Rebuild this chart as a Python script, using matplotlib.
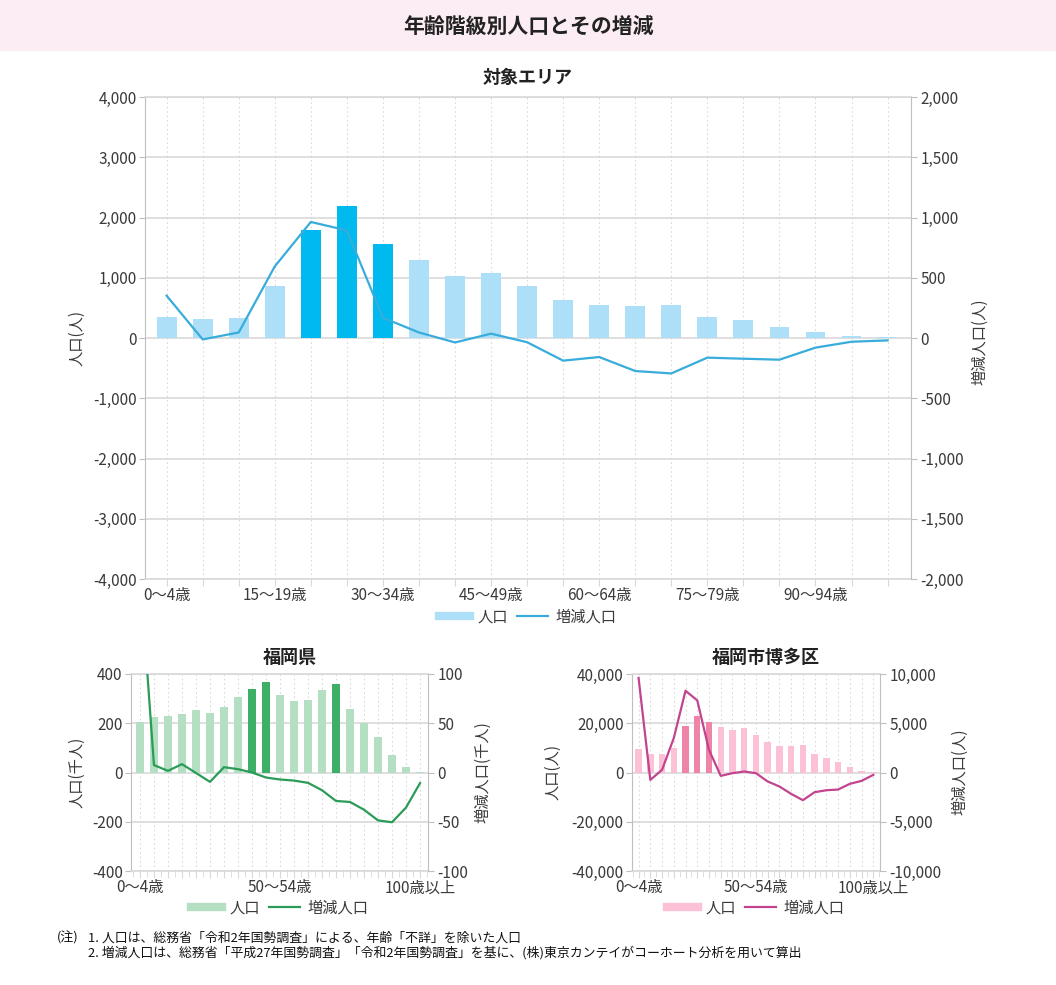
import matplotlib
matplotlib.use('Agg')
import matplotlib.pyplot as plt
from matplotlib.lines import Line2D
from matplotlib.patches import Rectangle
from matplotlib.ticker import FuncFormatter

plt.rcParams['font.family'] = ['Noto Sans CJK JP', 'DejaVu Sans']

# ---------------- data ----------------
ages = ['0〜4歳', '5〜9歳', '10〜14歳', '15〜19歳', '20〜24歳', '25〜29歳', '30〜34歳',
        '35〜39歳', '40〜44歳', '45〜49歳', '50〜54歳', '55〜59歳', '60〜64歳', '65〜69歳',
        '70〜74歳', '75〜79歳', '80〜84歳', '85〜89歳', '90〜94歳', '95〜99歳', '100歳以上']

area_pop = [350, 320, 330, 870, 1800, 2190, 1560, 1290, 1030, 1080, 865, 633, 553, 531,
            553, 349, 305, 183, 100, 27, 10]
area_change = [351, -12, 46, 594, 963, 893, 168, 46, -37, 36, -35, -188, -158, -274,
               -294, -163, -172, -180, -80, -31, -20]
area_highlight = [4, 5, 6]

pref_pop = [205, 226, 229, 237, 252, 243, 264, 305, 338, 367, 316, 292, 296, 335,
            359, 259, 199, 144, 72, 22, 4]
pref_change = [205, 7.5, 1.7, 8.5, -0.5, -9.5, 5.4, 3.4, 0, -5.1, -7.1, -8.2, -10.5, -18,
               -28.9, -29.9, -37.8, -48.6, -50.5, -35.6, -10.8]
pref_highlight = [8, 9, 14]

hakata_pop = [9600, 7700, 7450, 10000, 18850, 23050, 20600, 18300, 17350, 18000, 15200,
              12500, 10850, 10850, 11100, 7700, 5950, 4200, 2300, 700, 150]
hakata_change = [9600, -750, 270, 3490, 8300, 7320, 2300, -340, -70, 100, -70, -910,
                 -1420, -2170, -2810, -2000, -1800, -1730, -1150, -850, -240]
hakata_highlight = [4, 5, 6]

W, H = 1056, 985
fig = plt.figure(figsize=(W / 100, H / 100), dpi=100)
fig.patch.set_facecolor('white')


def fx(x):
    return x / W


def fy(y):
    return 1 - y / H


def rect(l, t, r, b):
    return [fx(l), fy(b), (r - l) / W, (b - t) / H]


# header band
fig.add_artist(Rectangle((0, fy(51)), 1, 51 / H, transform=fig.transFigure,
                         facecolor='#FCEDF4', edgecolor='none', zorder=0))
fig.text(fx(528), fy(26), '年齢階級別人口とその増減', ha='center', va='center',
         fontsize=15, fontweight='bold', color='#222222')

fmt = FuncFormatter(lambda v, p: f'{int(round(v)):,}')
GRID = '#D9D9D9'
AXC = '#BFBFBF'
TXT = '#3A3A3A'


def draw(box, pop, change, hl, light, dark, linec, yl, yr, stepl, stepr, xlim,
         label_idx, minor, title, title_xy, ylab_l, ylab_l_xy, ylab_r, ylab_r_xy, leg_xy):
    ax = fig.add_axes(rect(*box))
    x = list(range(len(ages)))
    colors = [dark if i in hl else light for i in x]
    ax.bar(x, pop, width=0.55, color=colors, zorder=2)
    ax.set_xlim(*xlim)
    ax.set_ylim(-yl, yl)
    ax.set_yticks(list(range(-yl, yl + 1, stepl)))
    ax.yaxis.set_major_formatter(fmt)
    ax.set_xticks(x)
    ax.set_xticklabels([ages[i] if i in label_idx else '' for i in x])
    if minor:
        ax.set_xticks([i + 0.5 for i in range(-1, len(ages))], minor=True)
        ax.tick_params(axis='x', which='minor', length=4, color=GRID)
    ax.set_axisbelow(True)
    ax.yaxis.grid(True, color=GRID, lw=1.2)
    ax.xaxis.grid(True, color=GRID, lw=0.8, ls=(0, (1.5, 2.5)))
    for s in ['top', 'bottom']:
        ax.spines[s].set_color(GRID)
        ax.spines[s].set_linewidth(1.2)
    ax.spines['left'].set_color(AXC)
    ax.spines['right'].set_visible(False)
    ax.tick_params(axis='y', length=4, color=AXC, labelsize=11, labelcolor=TXT, pad=2)
    ax.tick_params(axis='x', which='major', length=5, color=GRID, labelsize=11,
                   labelcolor=TXT, pad=1)

    ax2 = ax.twinx()
    ax2.plot(x, change, color=linec, lw=1.6, zorder=3)
    ax2.set_xlim(*xlim)
    ax2.set_ylim(-yr, yr)
    ax2.set_yticks(list(range(-yr, yr + 1, stepr)))
    ax2.yaxis.set_major_formatter(fmt)
    for s in ['top', 'bottom', 'left']:
        ax2.spines[s].set_visible(False)
    ax2.spines['right'].set_color(AXC)
    ax2.tick_params(axis='y', length=4, color=AXC, labelsize=11, labelcolor=TXT, pad=3)

    fig.text(fx(title_xy[0]), fy(title_xy[1]), title, ha='center', va='center',
             fontsize=13, fontweight='bold', color='#222222')
    fig.text(fx(ylab_l_xy[0]), fy(ylab_l_xy[1]), ylab_l, rotation=90, ha='center',
             va='center', fontsize=11, color=TXT)
    fig.text(fx(ylab_r_xy[0]), fy(ylab_r_xy[1]), ylab_r, rotation=90, ha='center',
             va='center', fontsize=11, color=TXT)
    handles = [Line2D([0], [0], color=light, lw=6), Line2D([0], [0], color=linec, lw=1.6)]
    ax.legend(handles, ['人口', '増減人口'], loc='center',
              bbox_to_anchor=(fx(leg_xy[0]), fy(leg_xy[1])), bbox_transform=fig.transFigure,
              ncol=2, frameon=False, fontsize=11, handlelength=2.0, handletextpad=0.5,
              columnspacing=0.6, labelcolor=TXT)
    return ax


draw((145, 97, 911, 579), area_pop, area_change, area_highlight,
     '#ADE0F8', '#00B9EF', '#38ACDA', 4000, 2000, 1000, 500, (-0.6, 20.65),
     [0, 3, 6, 9, 12, 15, 18], False,
     '対象エリア', (528, 77), '人口(人)', (77, 338), '増減人口(人)', (980, 342), (528, 617))

draw((131, 674, 428, 871), pref_pop, pref_change, pref_highlight,
     '#B4DFC2', '#3DAF67', '#2A9C57', 400, 100, 200, 50, (-0.64, 20.57),
     [0, 10, 20], True,
     '福岡県', (290, 657), '人口(千人)', (77, 772), '増減人口(千人)', (483, 772), (280, 908))

draw((632, 674, 880, 871), hakata_pop, hakata_change, hakata_highlight,
     '#FCC1D6', '#EE85A8', '#C2448E', 40000, 10000, 20000, 5000, (-0.56, 20.57),
     [0, 10, 20], True,
     '福岡市博多区', (766, 657), '人口(人)', (553, 772), '増減人口(人)', (960, 772), (756, 908))

# footnote
fig.text(fx(57), fy(938), '(注)', ha='left', va='center', fontsize=9.3, color='#111111')
fig.text(fx(88), fy(938), '1. 人口は、総務省「令和2年国勢調査」による、年齢「不詳」を除いた人口',
         ha='left', va='center', fontsize=9.3, color='#111111')
fig.text(fx(88), fy(953), '2. 増減人口は、総務省「平成27年国勢調査」「令和2年国勢調査」を基に、(株)東京カンテイがコーホート分析を用いて算出',
         ha='left', va='center', fontsize=9.3, color='#111111')

fig.savefig('out.png', dpi=100, facecolor='white')
